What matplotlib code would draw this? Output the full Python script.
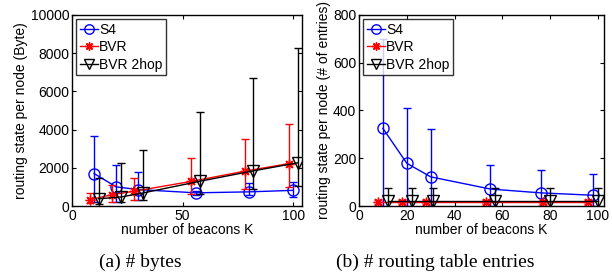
import matplotlib
matplotlib.use("Agg")
import matplotlib.pyplot as plt
import numpy as np

# ---- data: panel (a) bytes ----
a_x_s4 = [10, 20, 30, 56, 80, 100]
a_x_bvr = [8, 18, 28, 54, 78, 98]
a_x_2hop = [12, 22, 32, 58, 82, 102]
a_s4 = [1700, 1000, 860, 690, 740, 820]
a_s4_lo = [210, 210, 300, 600, 560, 470]
a_s4_hi = [3650, 2170, 1780, 800, 1220, 1260]
a_bvr = [330, 590, 770, 1290, 1820, 2220]
a_bvr_lo = [160, 210, 300, 650, 910, 1000]
a_bvr_hi = [680, 1080, 1490, 2530, 3500, 4280]
a_2hop = [380, 470, 680, 1300, 1840, 2260]
a_2hop_lo = [120, 200, 300, 650, 900, 1030]
a_2hop_hi = [1440, 2250, 2950, 4930, 6680, 8250]

# ---- data: panel (b) routing table entries ----
b_x_s4 = [10, 20, 30, 55, 76, 98]
b_x_bvr = [8, 18, 28, 53, 77, 96]
b_x_2hop = [12, 22, 31, 57, 80, 100]
b_s4 = [325, 179, 122, 71, 55, 45]
b_s4_lo = [0, 0, 0, 0, 0, 0]
b_s4_hi = [700, 409, 321, 172, 150, 133]
b_bvr = [17, 17, 17, 17, 17, 17]
b_bvr_lo = [10, 10, 10, 10, 10, 10]
b_bvr_hi = [24, 24, 24, 24, 24, 24]
b_2hop = [22, 22, 22, 22, 22, 22]
b_2hop_lo = [-10, -10, -10, -10, -10, -10]
b_2hop_hi = [76, 76, 76, 76, 76, 76]

series_labels = ["S4", "BVR", "BVR 2hop"]
captions = ["(a) # bytes", "(b) # routing table entries"]

plt.rcParams['font.family'] = ['Liberation Sans', 'DejaVu Sans']

fig = plt.figure(figsize=(6.12, 2.77), dpi=100)
ax1 = fig.add_axes([0.1176, 0.2563, 0.3759, 0.6897])
ax2 = fig.add_axes([0.5866, 0.2563, 0.4003, 0.6897])


def draw(ax, xs, ys, los, his):
    styles = [
        dict(color='blue', marker='o', ms=8, mfc='none', mew=1.0),
        dict(color='red', marker=(8, 2, 0), ms=7, mfc='none', mew=1.0),
        dict(color='black', marker='v', ms=8, mfc='none', mew=1.0),
    ]
    handles = []
    for x, y, lo, hi, st, lab in zip(xs, ys, los, his, styles, series_labels):
        y = np.array(y, float)
        lo = np.array(lo, float)
        hi = np.array(hi, float)
        ax.errorbar(x, y, yerr=[y - lo, hi - y], fmt='none', ecolor=st['color'],
                    elinewidth=1.0, capsize=3, capthick=1.0)
        h, = ax.plot(x, y, '-', lw=1.0, label=lab, **st)
        handles.append(h)
    leg = ax.legend(handles=handles, loc='upper left', fontsize=10, frameon=True,
                    fancybox=False, edgecolor='black', borderpad=0.25,
                    handlelength=1.3, handletextpad=0.1, labelspacing=0.25,
                    borderaxespad=0.3, markerscale=0.85)
    leg.get_frame().set_linewidth(1.0)
    ax.tick_params(direction='in', labelsize=10, top=True, right=True, length=3,
                   pad=2)
    for s in ax.spines.values():
        s.set_linewidth(1.0)
    ax.set_xlabel("number of beacons K", fontsize=10, labelpad=0)


draw(ax1, [a_x_s4, a_x_bvr, a_x_2hop], [a_s4, a_bvr, a_2hop],
     [a_s4_lo, a_bvr_lo, a_2hop_lo], [a_s4_hi, a_bvr_hi, a_2hop_hi])
ax1.set_xlim(0, 104)
ax1.set_ylim(0, 10000)
ax1.set_xticks([0, 50, 100])
ax1.set_yticks(range(0, 10001, 2000))
ax1.set_ylabel("routing state per node (Byte)", fontsize=10, labelpad=2)

draw(ax2, [b_x_s4, b_x_bvr, b_x_2hop], [b_s4, b_bvr, b_2hop],
     [b_s4_lo, b_bvr_lo, b_2hop_lo], [b_s4_hi, b_bvr_hi, b_2hop_hi])
ax2.set_xlim(0, 102.5)
ax2.set_ylim(0, 800)
ax2.set_xticks(range(0, 101, 20))
ax2.set_yticks(range(0, 801, 200))
ax2.set_ylabel("routing state per node (# of entries)", fontsize=10, labelpad=1)

fig.text(140 / 612, 1 - 262 / 277, captions[0], ha='center', va='center',
         fontsize=14, family=['Liberation Serif', 'DejaVu Serif'])
fig.text(435 / 612, 1 - 262 / 277, captions[1], ha='center', va='center',
         fontsize=14, family=['Liberation Serif', 'DejaVu Serif'])

fig.savefig("out.png", dpi=100)
